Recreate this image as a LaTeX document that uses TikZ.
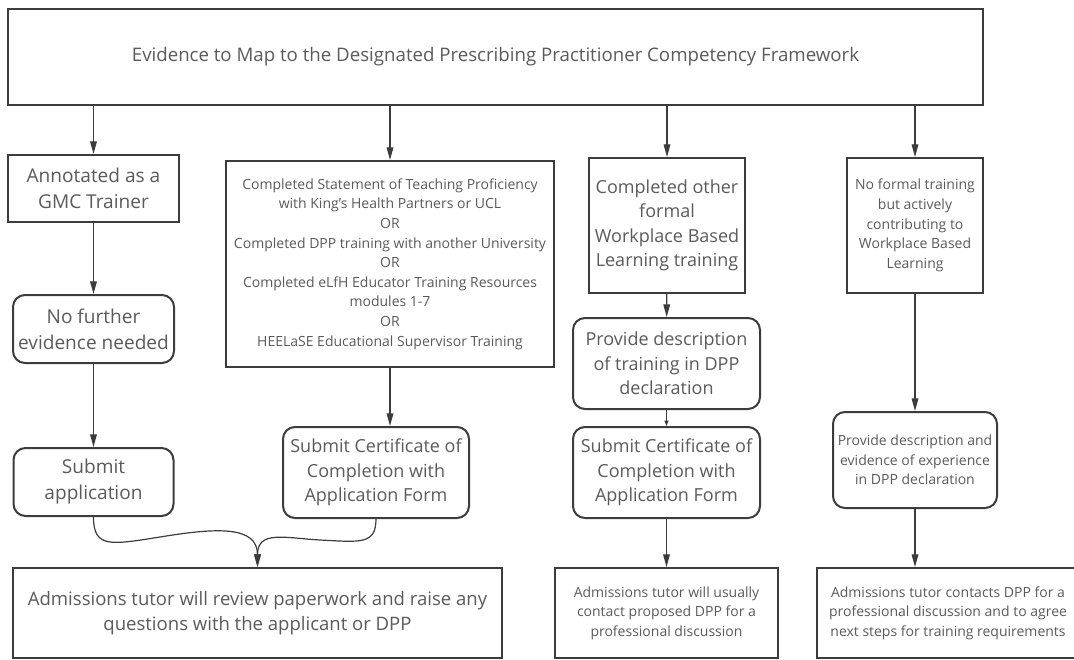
\documentclass[tikz,border=0pt]{standalone}
\usepackage{fontspec}
\setmainfont{Open Sans}
\usetikzlibrary{arrows.meta}

\definecolor{lineGray}{HTML}{3C3C3C}
\definecolor{textGray}{HTML}{5A5A5A}

\begin{document}
\begin{tikzpicture}[x=0.75pt, y=-0.75pt,
    box/.style={draw=lineGray, line width=1.5pt, text=textGray, align=center, inner sep=0pt},
    roundbox/.style={box, rounded corners=9pt},
    flow/.style={draw=lineGray, line width=0.9pt, -{Triangle[length=9.5pt, width=5pt]}},
    flowshort/.style={draw=lineGray, line width=0.8pt, -{Triangle[length=4pt, width=3pt]}}]

    % Sizes are given in pixels of the page
    \def\px{0.75pt}
    \def\fTitle{\fontsize{14}{17}\selectfont}
    \def\fLarge{\fontsize{14.3}{19.5}\selectfont}
    \def\fMid{\fontsize{13.5}{18.4}\selectfont}
    \def\fWide{\fontsize{13.9}{18.8}\selectfont}
    \def\fSmall{\fontsize{10.5}{14.7}\selectfont}

    % Page frame
    \useasboundingbox (0,0) rectangle (1074,660);

    % Heading
    \node[box, minimum width=975*\px, minimum height=96*\px, font=\fTitle] (top) at (495.5,57)
        {Evidence to Map to the Designated Prescribing Practitioner Competency Framework};

    % Kinds of evidence
    \node[box, minimum width=171*\px, minimum height=67*\px, font=\fLarge] (gmc) at (93.5,188.5)
        {Annotated as a\\GMC Trainer};
    \node[box, minimum width=328*\px, minimum height=206*\px, font=\fSmall] (qual) at (390,264)
        {Completed Statement of Teaching Proficiency\\with King's Health Partners or UCL\\OR\\
         Completed DPP training with another University\\OR\\
         Completed eLfH Educator Training Resources\\modules 1-7\\OR\\
         HEELaSE Educational Supervisor Training};
    \node[box, minimum width=156*\px, minimum height=135*\px, font=\fMid] (other) at (667,225.5)
        {Completed other\\formal\\Workplace Based\\Learning training};
    \node[box, minimum width=136*\px, minimum height=135*\px, font=\fSmall] (noformal) at (915,225.5)
        {No formal training\\but actively\\contributing to\\Workplace Based\\Learning};

    % Next steps
    \node[roundbox, minimum width=161*\px, minimum height=68*\px, font=\fLarge] (nofurther) at (93.5,329)
        {No further\\evidence needed};
    \node[roundbox, minimum width=187*\px, minimum height=91*\px, font=\fMid] (describe) at (666.5,363.5)
        {Provide description\\of training in DPP\\declaration};
    \node[roundbox, minimum width=160*\px, minimum height=68*\px, font=\fLarge] (submitapp) at (93.5,482)
        {Submit\\application};
    \node[roundbox, minimum width=186*\px, minimum height=91*\px, font=\fMid] (certA) at (376,472.5)
        {Submit Certificate of\\Completion with\\Application Form};
    \node[roundbox, minimum width=187*\px, minimum height=91*\px, font=\fMid] (certB) at (666.5,472.5)
        {Submit Certificate of\\Completion with\\Application Form};
    \node[roundbox, minimum width=164*\px, minimum height=96*\px, font=\fSmall] (experience) at (915,460)
        {Provide description and\\evidence of experience\\in DPP declaration};

    % Outcomes
    \node[box, minimum width=489*\px, minimum height=90*\px, font=\fWide] (reviewA) at (257.5,613)
        {Admissions tutor will review paperwork and raise any\\questions with the applicant or DPP};
    \node[box, minimum width=223*\px, minimum height=90*\px, font=\fSmall] (reviewB) at (666.5,613)
        {Admissions tutor will usually\\contact proposed DPP for a\\professional discussion};
    \node[box, minimum width=262*\px, minimum height=90*\px, font=\fSmall] (reviewC) at (948,613)
        {Admissions tutor contacts DPP for a\\professional discussion and to agree\\next steps for training requirements};

    % Arrows from the heading
    \draw[flow] (top.south -| gmc) -- (gmc.north);
    \draw[flow] (top.south -| qual) -- (qual.north);
    \draw[flow] (top.south -| other) -- (other.north);
    \draw[flow] (top.south -| noformal) -- (noformal.north);

    % Arrows down each column
    \draw[flow] (gmc) -- (nofurther);
    \draw[flow] (nofurther) -- (submitapp);
    \draw[flow] (qual.south) -- (qual.south |- certA.north);
    \draw[flow] (other) -- (describe);
    \draw[flowshort] (describe) -- (certB);
    \draw[flow] (certB) -- (reviewB);
    \draw[flow] (noformal) -- (experience);
    \draw[flow] (experience.south) -- (experience.south |- reviewC.north);

    % Two curves join into the review box
    \draw[flow] (submitapp.south) .. controls (93.5,548) and (110,545) .. (160,537)
        .. controls (215,528) and (257.5,525) .. (reviewA.north);
    \draw[flow] (certA.south) .. controls (376,545) and (360,542) .. (320,540)
        .. controls (285,538) and (257.5,530) .. (reviewA.north);

\end{tikzpicture}
\end{document}
